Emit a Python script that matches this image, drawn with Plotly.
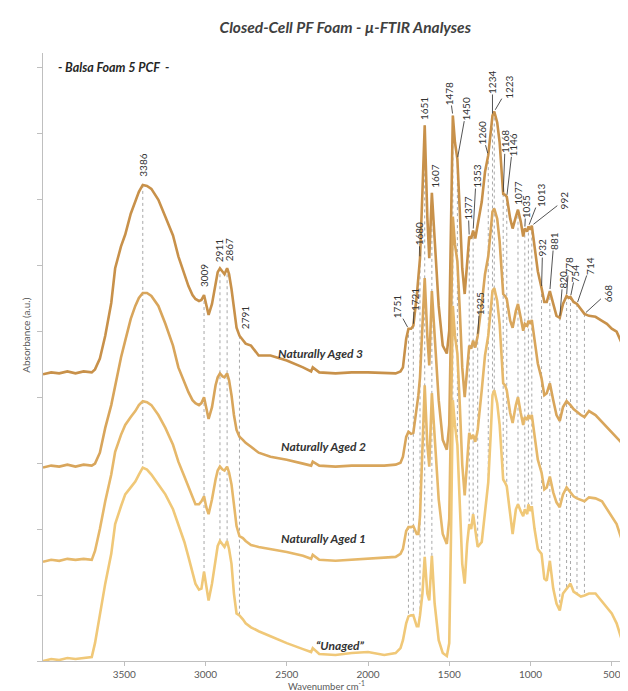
import numpy as np
import plotly.graph_objects as go

# Wavenumber grid (cm-1), shared by all spectra
WN = [4000, 3950, 3900, 3850, 3800, 3750, 3700, 3680, 3650, 3617,
      3580, 3556, 3520, 3494, 3460, 3432, 3410, 3386, 3360, 3333,
      3290, 3247, 3200, 3167, 3130, 3105, 3080, 3062, 3040, 3025,
      3009, 2995, 2981, 2960, 2938, 2925, 2911, 2895, 2883, 2867,
      2855, 2840, 2825, 2809, 2791, 2770, 2753, 2720, 2673,
      2600, 2500, 2400, 2350, 2340, 2300, 2200, 2100, 2000, 1900, 1830, 1800, 1785,
      1765, 1751, 1735, 1721, 1700, 1690, 1680, 1665, 1651, 1635,
      1623, 1607, 1590, 1565, 1540, 1515, 1500, 1490, 1478, 1465,
      1450, 1435, 1420, 1405, 1390, 1377, 1365, 1353, 1340, 1325,
      1300, 1280, 1260, 1245, 1234, 1223, 1205, 1190, 1175, 1168,
      1157, 1146, 1125, 1110, 1090, 1077, 1060, 1045, 1035, 1020,
      1013, 1000, 992, 975, 955, 932, 915, 900, 881, 860,
      840, 820, 800, 778, 765, 754, 735, 714, 690, 668,
      640, 600, 560, 530, 500, 470, 440, 420, 400]

AGED3 = [2.89, 2.91, 2.90, 2.92, 2.90, 2.92, 2.91, 2.94, 3.05, 3.28,
         3.61, 3.96, 4.18, 4.30, 4.51, 4.64, 4.73, 4.80, 4.79, 4.76,
         4.65, 4.48, 4.29, 4.08, 3.90, 3.78, 3.69, 3.65, 3.63, 3.64,
         3.69, 3.58, 3.49, 3.60, 3.83, 3.92, 3.96, 3.92, 3.90, 3.96,
         3.90, 3.75, 3.55, 3.36, 3.28, 3.24, 3.20, 3.18, 3.08,
         3.08, 3.03, 2.96, 2.92, 2.96, 2.91, 2.90, 2.91, 2.91, 2.90, 2.90, 2.92, 2.96,
         3.25, 3.35, 3.35, 3.38, 3.68, 3.86, 4.06, 4.73, 5.40, 4.48,
         4.06, 4.72, 4.23, 3.58, 3.18, 3.10, 3.33, 4.48, 5.50, 5.23,
         5.06, 4.53, 3.96, 3.70, 4.03, 4.28, 4.26, 4.34, 4.26, 4.40,
         4.63, 4.93, 5.10, 5.33, 5.50, 5.54, 5.43, 5.23, 4.83, 4.71,
         4.70, 4.68, 4.46, 4.36, 4.48, 4.55, 4.43, 4.28, 4.36, 4.33,
         4.38, 4.35, 4.39, 4.18, 3.93, 3.76, 3.62, 3.62, 3.73, 3.60,
         3.48, 3.46, 3.60, 3.68, 3.66, 3.67, 3.62, 3.60, 3.55, 3.50,
         3.48, 3.47, 3.43, 3.40, 3.35, 3.32, 3.21, 3.13, 2.93]

AGED2 = [1.95, 1.97, 1.96, 1.98, 1.96, 1.98, 1.97, 1.99, 2.10, 2.35,
         2.58, 2.78, 3.06, 3.23, 3.45, 3.58, 3.66, 3.71, 3.71, 3.68,
         3.58, 3.40, 3.18, 2.96, 2.81, 2.71, 2.63, 2.60, 2.58, 2.60,
         2.66, 2.53, 2.44, 2.56, 2.78, 2.86, 2.90, 2.87, 2.86, 2.90,
         2.83, 2.68, 2.48, 2.33, 2.26, 2.23, 2.20, 2.16, 2.10,
         2.06, 2.03, 1.99, 1.97, 2.01, 1.97, 1.96, 1.97, 1.97, 1.97, 1.98, 2.00, 2.06,
         2.26, 2.31, 2.29, 2.30, 2.53, 2.68, 2.86, 3.38, 3.86, 3.28,
         2.98, 3.73, 3.28, 2.63, 2.23, 2.13, 2.38, 3.48, 4.48, 4.20,
         4.03, 3.53, 2.96, 2.66, 2.96, 3.18, 3.15, 3.23, 3.16, 3.28,
         3.60, 3.90, 4.08, 4.36, 4.53, 4.56, 4.46, 4.23, 3.83, 3.70,
         3.68, 3.65, 3.43, 3.36, 3.53, 3.60, 3.46, 3.33, 3.40, 3.38,
         3.43, 3.40, 3.44, 3.23, 3.00, 2.85, 2.68, 2.70, 2.80, 2.63,
         2.48, 2.42, 2.56, 2.62, 2.60, 2.58, 2.54, 2.51, 2.48, 2.46,
         2.52, 2.48, 2.41, 2.36, 2.31, 2.26, 2.20, 2.13, 2.00]

AGED1 = [1.00, 1.02, 1.01, 1.03, 1.02, 1.03, 1.02, 1.11, 1.33, 1.61,
         1.88, 2.11, 2.28, 2.38, 2.46, 2.52, 2.58, 2.62, 2.61, 2.58,
         2.48, 2.35, 2.18, 2.01, 1.86, 1.75, 1.65, 1.58, 1.58, 1.61,
         1.66, 1.55, 1.48, 1.63, 1.83, 1.92, 1.96, 1.93, 1.92, 1.96,
         1.90, 1.78, 1.58, 1.36, 1.26, 1.24, 1.21, 1.17, 1.15,
         1.13, 1.10, 1.06, 1.03, 1.07, 1.02, 1.01, 1.02, 1.03, 1.04, 1.05, 1.08, 1.13,
         1.31, 1.35, 1.35, 1.36, 1.28, 1.28, 1.46, 2.18, 2.78, 2.18,
         1.96, 2.70, 2.28, 1.63, 1.28, 1.18, 1.43, 2.58, 3.58, 3.28,
         3.10, 2.58, 1.98, 1.67, 2.03, 2.30, 2.24, 2.28, 2.21, 2.33,
         2.73, 3.08, 3.28, 3.56, 3.73, 3.76, 3.63, 3.40, 2.96, 2.80,
         2.78, 2.73, 2.50, 2.40, 2.58, 2.66, 2.50, 2.38, 2.46, 2.43,
         2.48, 2.44, 2.48, 2.26, 2.03, 1.90, 1.73, 1.75, 1.86, 1.70,
         1.60, 1.55, 1.68, 1.75, 1.72, 1.70, 1.66, 1.64, 1.62, 1.61,
         1.65, 1.64, 1.61, 1.53, 1.46, 1.38, 1.23, 1.13, 1.01]

UNAGED = [0.00, 0.02, 0.01, 0.03, 0.02, 0.03, 0.04, 0.18, 0.46, 0.78,
          1.08, 1.38, 1.56, 1.68, 1.75, 1.81, 1.88, 1.95, 1.93, 1.88,
          1.78, 1.68, 1.53, 1.38, 1.20, 1.05, 0.88, 0.78, 0.72, 0.73,
          0.90, 0.73, 0.61, 0.78, 1.05, 1.16, 1.21, 1.17, 1.15, 1.21,
          1.13, 0.98, 0.68, 0.48, 0.46, 0.42, 0.38, 0.34, 0.30,
          0.25, 0.18, 0.12, 0.09, 0.13, 0.07, 0.06, 0.08, 0.09, 0.06, 0.08, 0.13, 0.21,
          0.38, 0.45, 0.46, 0.46, 0.35, 0.35, 0.46, 0.68, 1.05, 0.68,
          0.61, 1.06, 0.58, 0.21, 0.08, 0.05, 0.18, 1.18, 2.63, 2.38,
          2.18, 1.58, 0.98, 0.78, 1.18, 1.38, 1.33, 1.48, 1.33, 1.15,
          1.20, 1.48, 1.80, 2.28, 2.68, 2.73, 2.60, 2.38, 1.98, 1.83,
          1.80, 1.76, 1.48, 1.28, 1.53, 1.58, 1.51, 1.46, 1.53, 1.48,
          1.58, 1.51, 1.56, 1.33, 1.13, 1.08, 0.83, 0.81, 1.01, 0.73,
          0.58, 0.51, 0.68, 0.73, 0.75, 0.78, 0.70, 0.68, 0.65, 0.66,
          0.68, 0.68, 0.60, 0.55, 0.48, 0.38, 0.23, 0.13, 0.01]

SERIES_NAMES = ["Naturally Aged 3", "Naturally Aged 2", "Naturally Aged 1", "\u201cUnaged\u201d"]
SERIES_VALUES = [AGED3, AGED2, AGED1, UNAGED]
SERIES_COLORS = ["#C8914A", "#D8A55B", "#E6B86A", "#F0C878"]

# Peak labels: text, wavenumber, spectrum the label points to
PEAK_TEXT = ["3386", "3009", "2911", "2867", "2791", "1751", "1721", "1680", "1651", "1607",
             "1478", "1450", "1377", "1353", "1325", "1260", "1234", "1223", "1168", "1146",
             "1077", "1035", "1013", "992", "932", "881", "820", "778", "754", "714", "668"]
PEAK_WN = [3386, 3009, 2911, 2867, 2791, 1751, 1721, 1680, 1651, 1607,
           1478, 1450, 1377, 1353, 1325, 1260, 1234, 1223, 1168, 1146,
           1077, 1035, 1013, 992, 932, 881, 820, 778, 754, 714, 668]
PEAK_ON = [0] * 14 + [1] + [0] * 16

# label placement (pixel offsets of the label centre from the peak) and leader flag
LABEL_DX = [0, 0, -1, 2, 5, -12, 1, -1, 0, 3,
            -3, 9, -1, 3, 2, -6, 0, 14, 2, 6,
            0, 1, 12, 32, 1, 4, 3, 2, 5, 13, 23]
LABEL_DY = [-20, -19, -18, -18, -18, -22, -26, -24, -17, -17,
            -22, -50, -28, -54, -32, -22, -33, -24, -52, -52,
            -17, -22, -31, -25, -40, -50, -38, -30, -24, -38, -21]
LEADER = [False, False, False, False, False, True, True, True, False, False,
          True, True, True, True, True, True, True, True, True, True,
          False, True, True, True, True, True, True, True, True, True, True]

wn_arr = np.array(WN, dtype=float)


def value_at(series, w):
    return float(np.interp(w, wn_arr[::-1], np.array(series, dtype=float)[::-1]))


fig = go.Figure()

# dotted reference lines from the labelled peak down to the unaged spectrum
lx, ly = [], []
for w, on in zip(PEAK_WN, PEAK_ON):
    lx += [w, w, None]
    ly += [value_at(SERIES_VALUES[on], w), value_at(UNAGED, w), None]
fig.add_trace(go.Scatter(x=lx, y=ly, mode="lines", hoverinfo="skip",
                         line=dict(color="#A8A8A8", width=1, dash="dot"), showlegend=False))

for name, vals, col in zip(SERIES_NAMES, SERIES_VALUES, SERIES_COLORS):
    fig.add_trace(go.Scatter(x=WN, y=vals, mode="lines", name=name,
                             line=dict(color=col, width=2.6), showlegend=False))

FONT = "Lato, 'Open Sans', sans-serif"

for t, w, on, dx, dy, lead in zip(PEAK_TEXT, PEAK_WN, PEAK_ON, LABEL_DX, LABEL_DY, LEADER):
    fig.add_annotation(x=w, y=value_at(SERIES_VALUES[on], w), xref="x", yref="y",
                       text=t, textangle=-90, showarrow=True, axref="pixel", ayref="pixel",
                       ax=dx, ay=dy, arrowhead=0, arrowwidth=0.9, standoff=2,
                       arrowcolor="#404040" if lead else "rgba(0,0,0,0)",
                       font=dict(family=FONT, size=10, color="#333333"), borderpad=0)

# spectrum names
NAME_POS = [(2290, 3.10), (2275, 2.16), (2275, 1.24), (2170, 0.16)]
for name, (px, py) in zip(SERIES_NAMES, NAME_POS):
    fig.add_annotation(x=px, y=py, xref="x", yref="y", text="<b><i>" + name + "</i></b>",
                       showarrow=False, font=dict(family=FONT, size=12, color="#333333"))

fig.add_annotation(x=0.022, y=0.9755, xref="paper", yref="paper", xanchor="left", yanchor="middle",
                   text="<b><i>- Balsa Foam 5 PCF  -</i></b>", showarrow=False,
                   font=dict(family=FONT, size=12.5, color="#262626"))

# axis titles placed as text
fig.add_annotation(x=-0.029, y=0.535, xref="paper", yref="paper", xanchor="center", yanchor="middle",
                   text="Absorbance (a.u.)", textangle=-90, showarrow=False,
                   font=dict(family=FONT, size=10, color="#595959"))
fig.add_annotation(x=0.485, y=-0.0525, xref="paper", yref="paper", xanchor="center", yanchor="bottom",
                   text="Wavenumber cm<sup>-1</sup>", showarrow=False, borderpad=0,
                   font=dict(family=FONT, size=9.5, color="#595959"))

ytick = [round(i * 0.6644, 4) for i in range(10)]

fig.update_layout(
    width=628, height=691,
    margin=dict(l=35, r=8, t=45, b=38),
    paper_bgcolor="white", plot_bgcolor="white",
    title=dict(text="<b><i>Closed-Cell PF Foam - \u00b5-FTIR Analyses</i></b>",
               x=0.537, xref="container", xanchor="center",
               y=0.971, yref="container", yanchor="middle",
               font=dict(family=FONT, size=15.5, color="#404040")),
    xaxis=dict(range=[4000, 400], tickvals=[3500, 3000, 2500, 2000, 1500, 1000, 500],
               ticks="outside", ticklen=4, tickcolor="#BFBFBF", showline=True,
               linecolor="#BFBFBF", linewidth=1, showgrid=False, zeroline=False,
               tickfont=dict(family=FONT, size=10, color="#595959")),
    yaxis=dict(range=[0, 6.13], tickvals=ytick, showticklabels=False,
               ticks="outside", ticklen=5, tickcolor="#BFBFBF", showline=True,
               linecolor="#BFBFBF", linewidth=1, showgrid=False, zeroline=False),
)

fig.write_html("out.html")
